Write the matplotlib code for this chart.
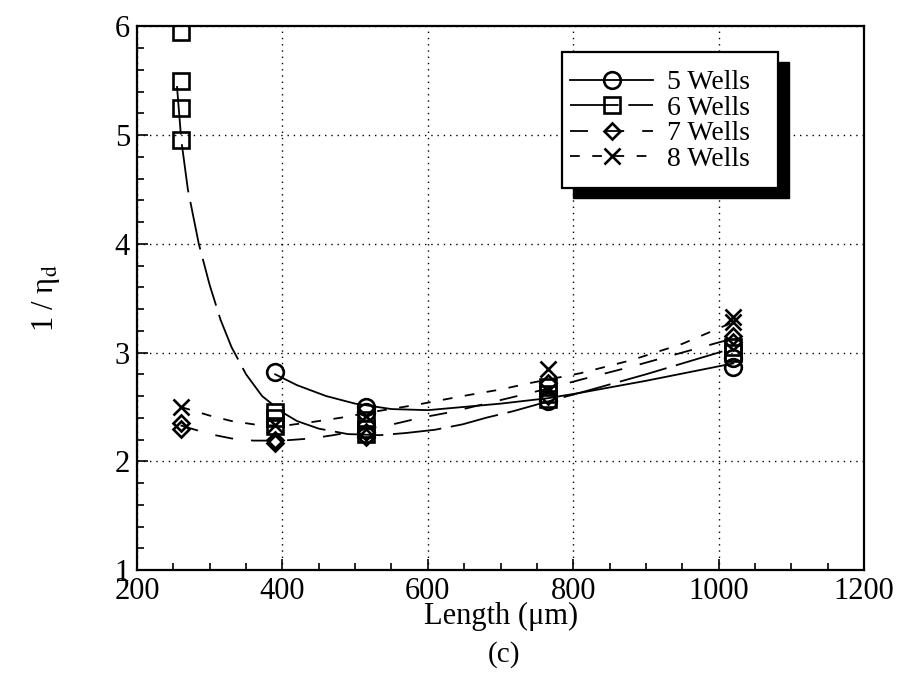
import matplotlib
matplotlib.use("Agg")
import matplotlib.pyplot as plt
from matplotlib.patches import Rectangle
from matplotlib.ticker import MultipleLocator

plt.rcParams["font.family"] = ["Liberation Serif", "DejaVu Serif"]
plt.rcParams["mathtext.fontset"] = "stix"
plt.rcParams["lines.scale_dashes"] = False

# measured points (length in um, 1/eta_d)
w5_x = [390, 515, 515, 765, 1020, 1020]
w5_y = [2.82, 2.50, 2.45, 2.55, 2.95, 2.87]
w6_x = [260, 260, 260, 260, 390, 390, 390, 515, 515, 515, 765, 765, 765, 1020, 1020]
w6_y = [5.95, 5.50, 5.25, 4.95, 2.45, 2.40, 2.32, 2.38, 2.30, 2.25, 2.68, 2.62, 2.57, 3.05, 3.00]
w7_x = [260, 260, 390, 390, 515, 515, 765, 765, 1020, 1020]
w7_y = [2.35, 2.30, 2.20, 2.17, 2.27, 2.22, 2.72, 2.60, 3.15, 3.10]
w8_x = [260, 390, 515, 765, 1020, 1020]
w8_y = [2.50, 2.33, 2.42, 2.85, 3.33, 3.28]

# fitted curves
fit5_x = [390, 420, 460, 500, 550, 600, 650, 700, 765, 810, 900, 1020]
fit5_y = [2.80, 2.70, 2.60, 2.53, 2.48, 2.47, 2.50, 2.53, 2.58, 2.63, 2.74, 2.90]
fit6_x = [255, 261, 270, 285, 300, 315, 330, 350, 372, 400, 420, 450, 490, 534,
          570, 610, 648, 680, 717, 765, 820, 900, 960, 1020]
fit6_y = [5.45, 4.95, 4.50, 4.00, 3.62, 3.30, 3.05, 2.80, 2.60, 2.45, 2.37, 2.30, 2.25, 2.24,
          2.26, 2.29, 2.34, 2.40, 2.46, 2.55, 2.65, 2.80, 2.92, 3.04]
fit7_x = [260, 300, 330, 360, 400, 440, 470, 510, 552, 590, 630, 680, 723, 760, 810, 880, 950, 1020]
fit7_y = [2.33, 2.25, 2.21, 2.19, 2.19, 2.21, 2.24, 2.29, 2.34, 2.40, 2.45, 2.53, 2.60, 2.66,
          2.75, 2.87, 3.00, 3.13]
fit8_x = [260, 300, 330, 370, 406, 440, 480, 530, 585, 648, 700, 741, 810, 880, 950, 1020]
fit8_y = [2.50, 2.42, 2.37, 2.33, 2.33, 2.36, 2.40, 2.46, 2.52, 2.60, 2.66, 2.72, 2.81, 2.93,
          3.08, 3.28]

labels = ["5 Wells", "6 Wells", "7 Wells", "8 Wells"]

fig = plt.figure(figsize=(9.04, 6.73), dpi=100)
ax = fig.add_axes([0.1515, 0.153, 0.8045, 0.808])

mk = dict(color="black", mfc="none", mec="black", mew=1.9)

ax.plot(fit5_x, fit5_y, color="black", lw=1.3, ls="-")
ax.plot(fit6_x, fit6_y, color="black", lw=1.3, dashes=(35, 7))
ax.plot(fit7_x, fit7_y, color="black", lw=1.3, dashes=(13, 13))
ax.plot(fit8_x, fit8_y, color="black", lw=1.3, dashes=(7, 9))

ax.plot(w5_x, w5_y, ls="none", marker="o", ms=12, **mk)
ax.plot(w6_x, w6_y, ls="none", marker="s", ms=11.5, **mk)
ax.plot(w7_x, w7_y, ls="none", marker="D", ms=8.5, **mk)
ax.plot(w8_x, w8_y, ls="none", marker="x", ms=11, **mk)

# legend handles
h5, = ax.plot([], [], ls="-", lw=1.3, marker="o", ms=12, **mk)
h6, = ax.plot([], [], dashes=(35, 7), lw=1.3, marker="s", ms=11.5, **mk)
h7, = ax.plot([], [], dashes=(13, 13), lw=1.3, marker="D", ms=8.5, **mk)
h8, = ax.plot([], [], dashes=(7, 9), lw=1.3, marker="x", ms=11, **mk)

ax.set_xlim(200, 1200)
ax.set_ylim(1, 6)
ax.xaxis.set_major_locator(MultipleLocator(200))
ax.xaxis.set_minor_locator(MultipleLocator(50))
ax.yaxis.set_major_locator(MultipleLocator(1))
ax.yaxis.set_minor_locator(MultipleLocator(0.2))
ax.tick_params(which="both", direction="in", top=False, right=False, labelsize=22,
               width=1.2, colors="black")
ax.tick_params(which="major", length=8, pad=5)
ax.tick_params(which="minor", length=5)
ax.grid(True, which="major", color="black", lw=1.0, ls=(0, (1, 3.5)))
for s in ax.spines.values():
    s.set_linewidth(1.6)

ax.set_xlabel("Length (μm)", fontsize=22, labelpad=-3)
ax.set_ylabel("1 / η$_\\mathrm{d}$", fontsize=22, labelpad=38)
fig.text(0.557, 0.027, "(c)", ha="center", va="center", fontsize=21)

# legend box with solid drop shadow
ax.add_patch(Rectangle((0.599, 0.684), 0.297, 0.251, transform=ax.transAxes,
                       facecolor="black", edgecolor="black", zorder=5, clip_on=False))
ax.add_patch(Rectangle((0.585, 0.702), 0.297, 0.251, transform=ax.transAxes,
                       facecolor="white", edgecolor="black", lw=1.6, zorder=6, clip_on=False))
leg = ax.legend([h5, h6, h7, h8], labels, loc="upper left", bbox_to_anchor=(0.58, 0.94),
                frameon=False, fontsize=20, handlelength=3.0, handletextpad=0.5,
                labelspacing=0.0, borderaxespad=0.0)
leg.set_zorder(7)

fig.savefig("out.png", dpi=100)
